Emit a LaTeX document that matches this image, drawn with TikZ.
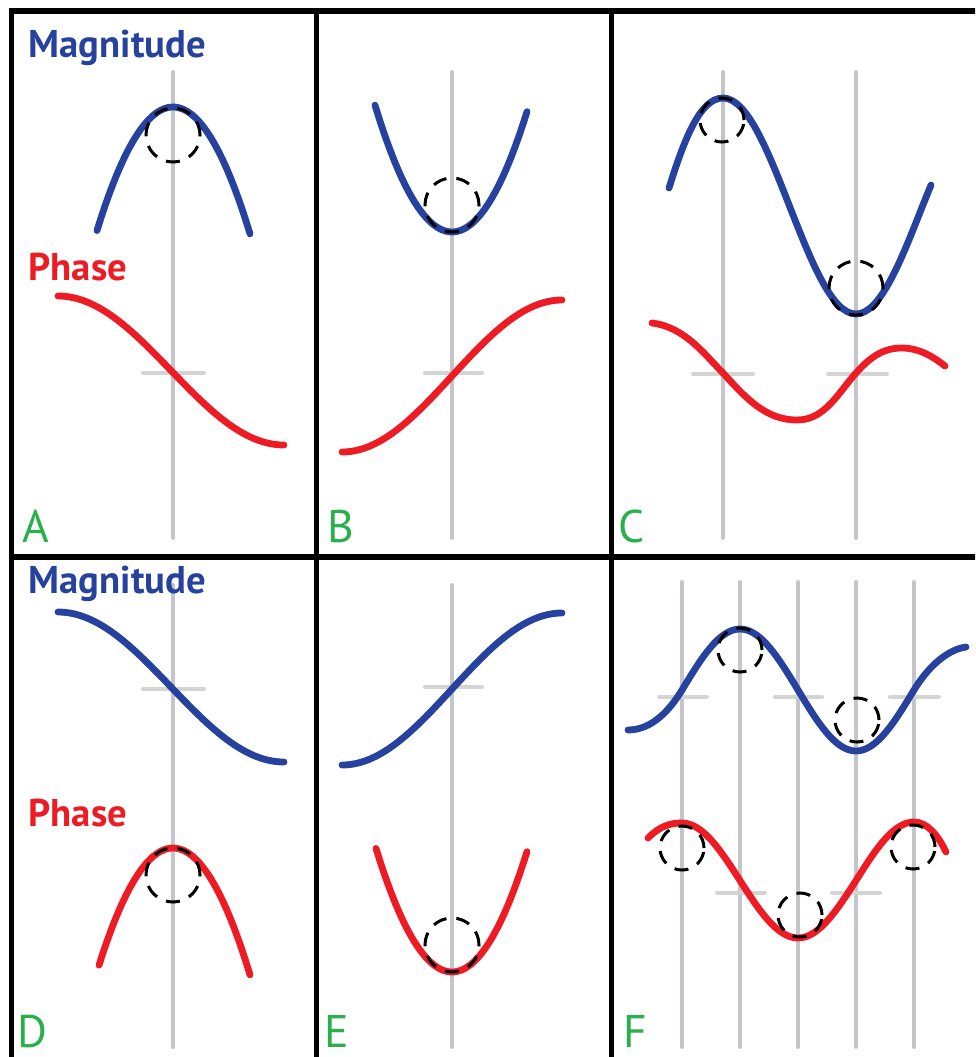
\documentclass[tikz,border=0pt]{standalone}
\usepackage{fontspec}
\setmainfont{PT Sans}
\usepackage{xcolor}
\usepackage{tikz}

\definecolor{magblue}{RGB}{38,66,158}
\definecolor{phasered}{RGB}{237,28,36}
\definecolor{lettergreen}{RGB}{41,176,74}
\definecolor{axisgray}{RGB}{196,197,202}
\definecolor{tickgray}{RGB}{212,212,212}

\begin{document}
\begin{tikzpicture}[x=0.01cm, y=-0.01cm,
		frame/.style={line width=0.055cm, black},
		axis/.style={line width=0.04cm, axisgray, line cap=round},
		level/.style={line width=0.04cm, tickgray, line cap=round},
		magcurve/.style={line width=0.068cm, magblue, line cap=round},
		phasecurve/.style={line width=0.068cm, phasered, line cap=round},
		extremum/.style={draw, circle, inner sep=0pt, line width=0.03cm, black, dash pattern=on 0.14cm off 0.1cm},
		title/.style={anchor=base west, inner sep=0pt, font=\fontsize{11}{13}\selectfont\bfseries},
		panel/.style={anchor=base west, inner sep=0pt, text=lettergreen, font=\fontsize{13}{15}\selectfont}]
			\useasboundingbox (0,0) rectangle (975,1057);
			\clip (0,0) rectangle (975,1057);
			
			% panel grid
			\draw[frame] (11.5,1060) -- (11.5,11) -- (980,11);
			\draw[frame] (316.5,11) -- (316.5,1060);
			\draw[frame] (611.5,11) -- (611.5,1060);
			\draw[frame] (11.5,557) -- (980,557);
			
			% frequency markers
			\draw[axis] (173,72) -- (173,538);
			\draw[axis] (452,72) -- (452,538);
			\draw[axis] (723,72) -- (723,538);
			\draw[axis] (856,72) -- (856,538);
			\draw[axis] (173,585) -- (173,1047);
			\draw[axis] (452,585) -- (452,1047);
			\draw[axis] (682,582) -- (682,1047);
			\draw[axis] (740,582) -- (740,1047);
			\draw[axis] (798,582) -- (798,1047);
			\draw[axis] (856,582) -- (856,1047);
			\draw[axis] (914,582) -- (914,1047);
			
			\draw[level] (143,373) -- (204,373);
			\draw[level] (425,373) -- (482,373);
			\draw[level] (693,374) -- (753,374);
			\draw[level] (828,374) -- (887,374);
			\draw[level] (143,689) -- (204,689);
			\draw[level] (425,687) -- (482,687);
			\draw[level] (659,697) -- (707,697);
			\draw[level] (775,697) -- (822,697);
			\draw[level] (890,697) -- (939,697);
			\draw[level] (717,893) -- (765,893);
			\draw[level] (832,893) -- (880,893);
			
			% A
			\draw[magcurve] plot[domain=-76:77, samples=40] ({173+\x},{107+0.0214*\x*\x});
			\draw[phasecurve] (58,296) cos (171,370.5) sin (284,445);
			
			% B
			\draw[magcurve] plot[domain=-77:75, samples=40] ({452+\x},{232-0.0214*\x*\x});
			\draw[phasecurve] (342,452) cos (452,376) sin (562,300);
			
			% C
			\draw[magcurve] (669,188) .. controls (684,140) and (700,98) .. (723,98)
				cos (789.5,206) sin (856,314) cos (922.5,206) -- (931,185);
			\draw[phasecurve] (652,323) .. controls (685,327) and (705,355) .. (723,373)
				.. controls (745,397) and (765,420) .. (797,420)
				.. controls (825,420) and (838,393) .. (856,373)
				.. controls (872,355) and (885,348) .. (902,348)
				.. controls (920,348) and (935,358) .. (945,366);
			
			% D
			\draw[magcurve] (58,612) cos (171,687) sin (284,762);
			\draw[phasecurve] plot[domain=-74:77, samples=40] ({173+\x},{848+0.0214*\x*\x});
			
			% E
			\draw[magcurve] (342,765) cos (452,689) sin (562,613);
			\draw[phasecurve] plot[domain=-76:75, samples=40] ({452+\x},{972-0.0214*\x*\x});
			
			% F
			\draw[magcurve] (628,730) .. controls (652,730) and (670,709.8) .. (682,690)
				sin (740,629) cos (798,690) sin (856,751) cos (914,690)
				.. controls (926,670.2) and (945,650) .. (966,647);
			\draw[phasecurve] (648,838) .. controls (660,826) and (670,823) .. (682,823)
				cos (740,880.5) sin (798,938) cos (856,880.5) sin (914,822)
				.. controls (927,822) and (938,835) .. (946,852);
			
			% extrema
			\node[extremum, minimum size=0.54cm] (maxA) at (173,135) {};
			\node[extremum, minimum size=0.54cm] (minB) at (452,205) {};
			\node[extremum, minimum size=0.44cm] (maxC) at (722,120) {};
			\node[extremum, minimum size=0.54cm] (minC) at (856,288) {};
			\node[extremum, minimum size=0.54cm] (maxD) at (173,875) {};
			\node[extremum, minimum size=0.54cm] (minE) at (452,945) {};
			\node[extremum, minimum size=0.44cm] (maxF) at (740,650) {};
			\node[extremum, minimum size=0.44cm] (minF) at (857,720) {};
			\node[extremum, minimum size=0.44cm] (leftF) at (682,848) {};
			\node[extremum, minimum size=0.44cm] (midF) at (800,915) {};
			\node[extremum, minimum size=0.44cm] (rightF) at (913,847) {};
			
			% labels
			\node[title, text=magblue] (magA) at (28,57) {Magnitude};
			\node[title, text=phasered] (phaseA) at (28,280) {Phase};
			\node[title, text=magblue] (magD) at (28,593) {Magnitude};
			\node[title, text=phasered] (phaseD) at (28,826) {Phase};
			
			\node[panel] (lblA) at (22,542) {A};
			\node[panel] (lblB) at (327,542) {B};
			\node[panel] (lblC) at (618,542) {C};
			\node[panel] (lblD) at (17,1047) {D};
			\node[panel] (lblE) at (324,1047) {E};
			\node[panel] (lblF) at (623,1047) {F};
		\end{tikzpicture}
\end{document}
